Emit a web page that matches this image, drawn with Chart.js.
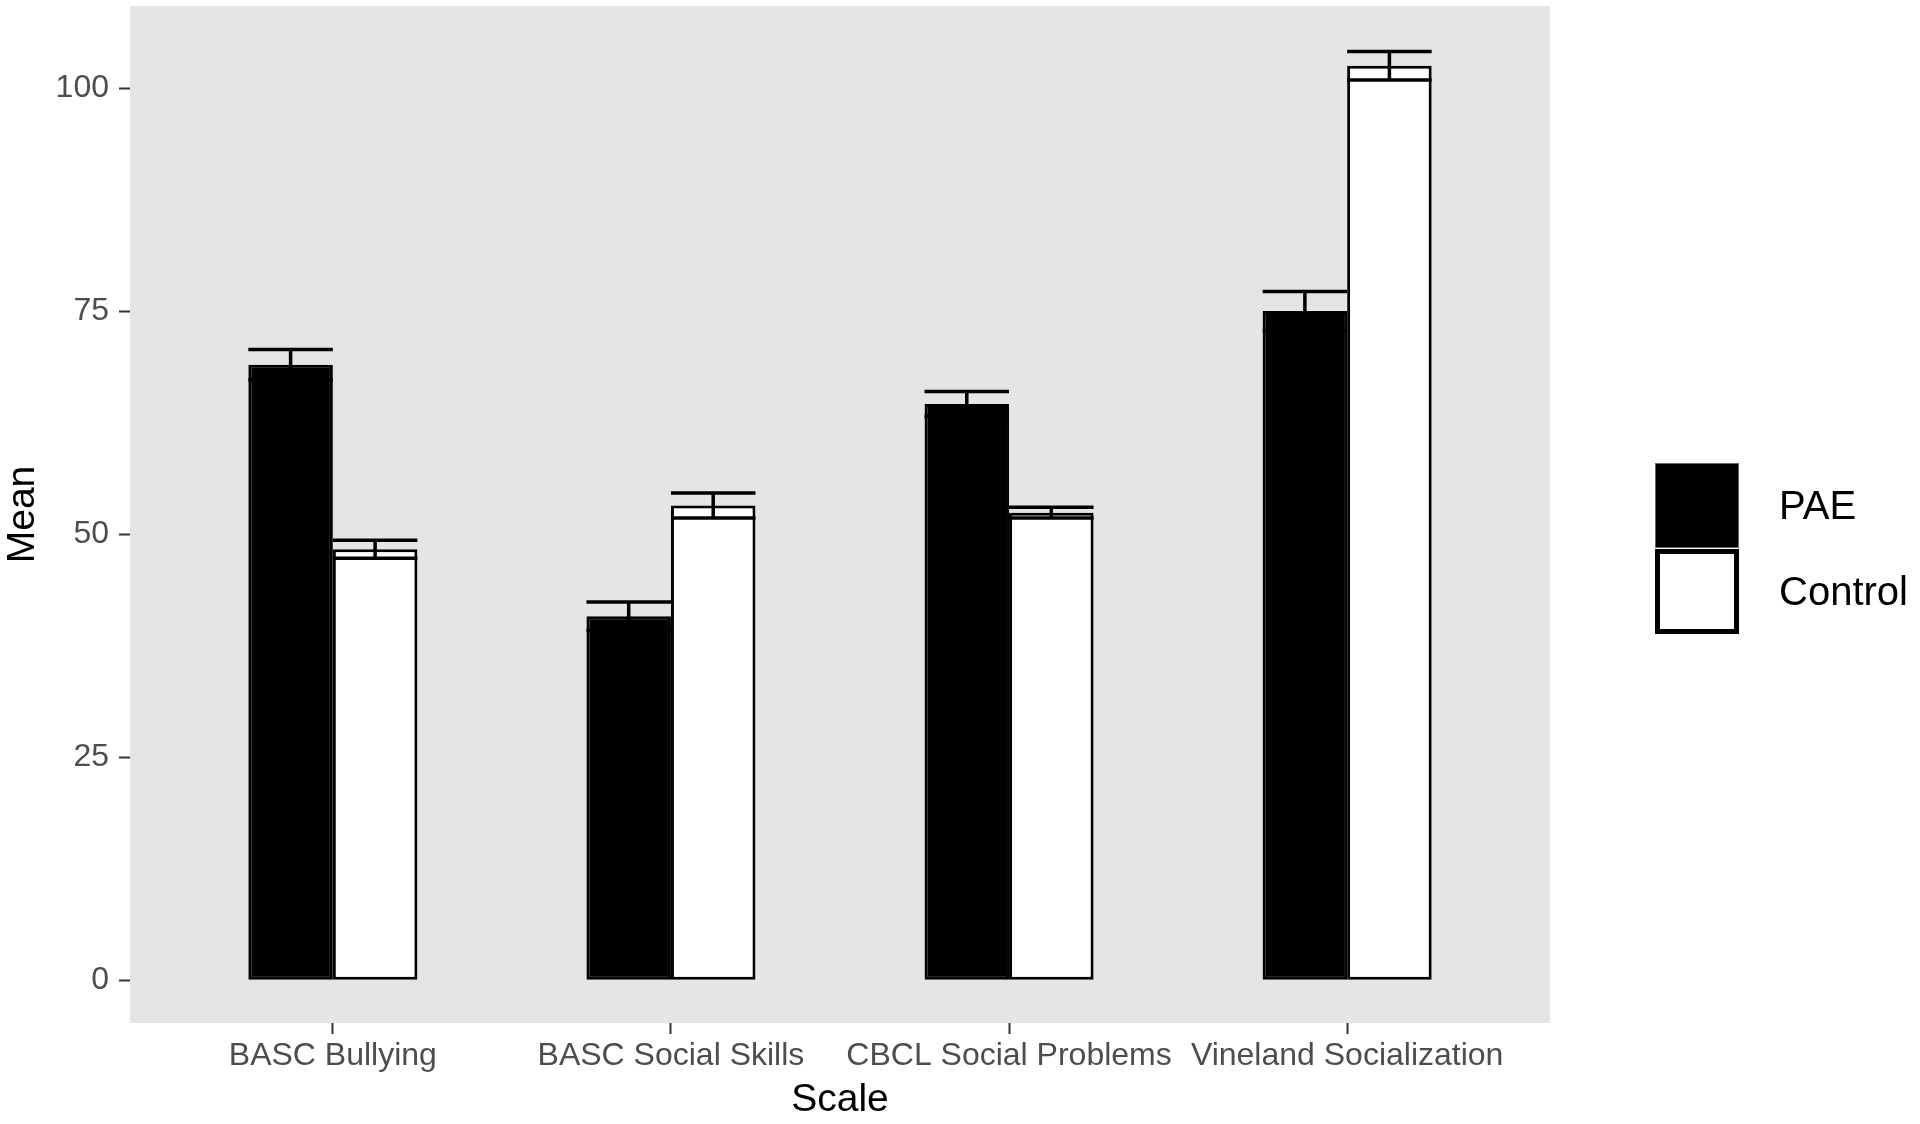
<!DOCTYPE html>
<html><head><meta charset="utf-8">
<script src="https://cdn.jsdelivr.net/npm/chart.js@4.4.1/dist/chart.umd.min.js"></script>
<style>html,body{margin:0;padding:0;background:#fff;} #wrap{width:1920px;height:1124px;}</style>
</head><body><div id="wrap"><canvas id="c" width="1920" height="1124"></canvas></div>
<script>
const categories = ['BASC Bullying', 'BASC Social Skills', 'CBCL Social Problems', 'Vineland Socialization'];
const groups = ['PAE', 'Control'];
const paeMeans = [69.0, 40.8, 64.6, 75.0];
const paeSE = [1.7, 1.6, 1.4, 2.2];
const controlMeans = [48.3, 53.2, 52.4, 102.5];
const controlSE = [1.0, 1.4, 0.6, 1.6];
const yTicks = [0, 25, 50, 75, 100];

const FONT = '"Liberation Sans", Arial, Helvetica, sans-serif';

const panelBg = {
  id: 'panelBg',
  beforeDraw(chart) {
    const a = chart.chartArea, ctx = chart.ctx;
    ctx.save();
    ctx.fillStyle = '#E5E5E5';
    ctx.fillRect(a.left, a.top, a.right - a.left, a.bottom - a.top);
    ctx.restore();
  }
};

const errorBars = {
  id: 'errorBars',
  afterDatasetsDraw(chart) {
    const ctx = chart.ctx, y = chart.scales.y;
    ctx.save();
    ctx.strokeStyle = '#000000';
    ctx.lineWidth = 3.5;
    chart.data.datasets.forEach((ds, di) => {
      const meta = chart.getDatasetMeta(di);
      meta.data.forEach((bar, i) => {
        const m = ds.data[i].y, s = ds.se[i];
        const hi = y.getPixelForValue(m + s), lo = y.getPixelForValue(m - s);
        const half = bar.width / 2;
        ctx.beginPath();
        ctx.moveTo(bar.x, hi); ctx.lineTo(bar.x, lo);
        ctx.moveTo(bar.x - half, hi); ctx.lineTo(bar.x + half, hi);
        ctx.moveTo(bar.x - half, lo); ctx.lineTo(bar.x + half, lo);
        ctx.stroke();
      });
    });
    ctx.restore();
  }
};

const sideLegend = {
  id: 'sideLegend',
  afterDraw(chart) {
    const ctx = chart.ctx;
    const x0 = 1655, keyW = 84, keyH = 85, top0 = 463;
    ctx.save();
    chart.data.datasets.forEach((ds, i) => {
      const top = top0 + i * (keyH + 1);
      ctx.fillStyle = ds.backgroundColor;
      ctx.fillRect(x0, top, keyW, keyH);
      if (i === 0) {
        ctx.strokeStyle = '#666';
        ctx.lineWidth = 1;
        ctx.strokeRect(x0 + 0.5, top + 0.5, keyW - 1, keyH - 1);
      } else {
        ctx.strokeStyle = '#000';
        ctx.lineWidth = 5;
        ctx.strokeRect(x0 + 2.5, top + 2.5, keyW - 5, keyH - 5);
      }
      ctx.fillStyle = '#000';
      ctx.font = '40px ' + FONT;
      ctx.textAlign = 'left';
      ctx.textBaseline = 'middle';
      ctx.fillText(ds.label, 1779, top + keyH / 2 + 2);
    });
    ctx.restore();
  }
};

new Chart(document.getElementById('c'), {
  type: 'bar',
  data: {
    datasets: [
      {
        label: groups[0],
        data: paeMeans.map((v, i) => ({ x: i, y: v })),
        se: paeSE,
        backgroundColor: '#000000',
        borderColor: '#000000',
        borderWidth: 3,
        borderSkipped: false
      },
      {
        label: groups[1],
        data: controlMeans.map((v, i) => ({ x: i, y: v })),
        se: controlSE,
        backgroundColor: '#FFFFFF',
        borderColor: '#000000',
        borderWidth: 3,
        borderSkipped: false
      }
    ]
  },
  options: {
    responsive: false,
    animation: false,
    devicePixelRatio: 1,
    categoryPercentage: 0.5,
    barPercentage: 1.0,
    layout: { padding: { top: 6, right: 370, left: 0, bottom: 0 } },
    plugins: { legend: { display: false }, tooltip: { enabled: false } },
    scales: {
      x: {
        type: 'linear',
        min: -0.6,
        max: 3.6,
        offset: false,
        afterBuildTicks(scale) { scale.ticks = categories.map((c, i) => ({ value: i })); },
        afterFit(scale) { scale.height = 101; scale.paddingLeft = 0; scale.paddingRight = 0; },
        grid: { display: true, offset: false, drawOnChartArea: false, drawTicks: true, tickLength: 11, tickColor: '#333333', tickWidth: 2 },
        border: { display: false },
        ticks: {
          autoSkip: false, maxRotation: 0, minRotation: 0, padding: 3,
          color: '#4D4D4D', font: { family: FONT, size: 32 },
          callback: (v) => categories[v]
        },
        title: { display: true, text: 'Scale', color: '#000', font: { family: FONT, size: 39 }, padding: 0 }
      },
      y: {
        min: -4.8,
        max: 109.2,
        afterBuildTicks(scale) { scale.ticks = yTicks.map(v => ({ value: v })); },
        afterFit(scale) { scale.width = 130; scale.paddingTop = 0; scale.paddingBottom = 0; },
        grid: { display: true, drawOnChartArea: false, drawTicks: true, tickLength: 11, tickColor: '#333333', tickWidth: 2 },
        border: { display: false },
        ticks: { padding: 10, color: '#4D4D4D', font: { family: FONT, size: 32 } },
        title: { display: true, text: 'Mean', color: '#000', font: { family: FONT, size: 39 }, padding: 0 }
      }
    }
  },
  plugins: [panelBg, errorBars, sideLegend]
});
</script>
</body></html>
